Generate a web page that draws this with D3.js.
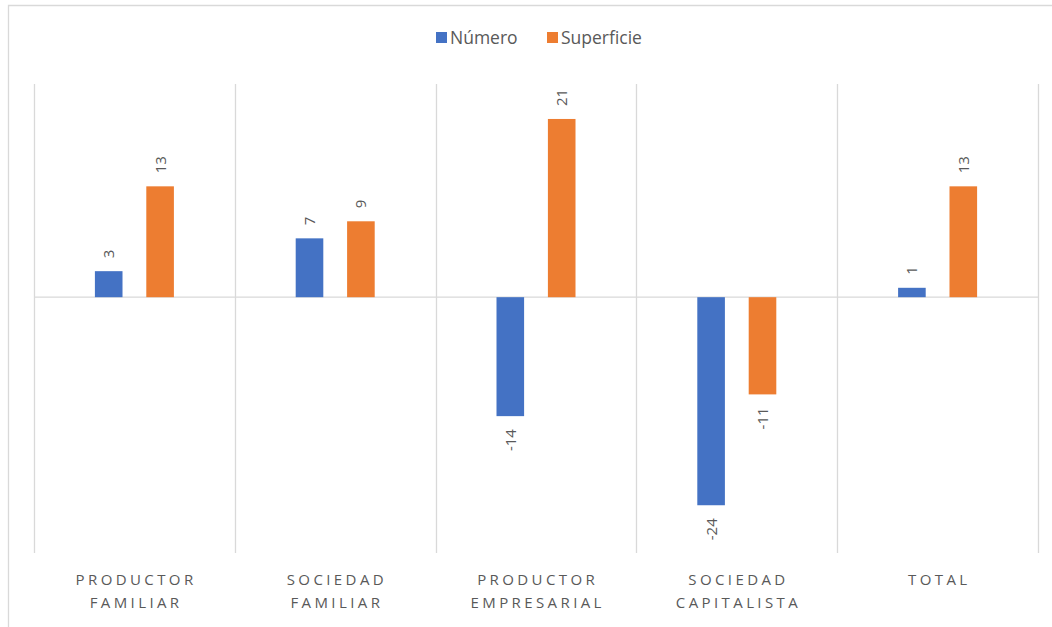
<!DOCTYPE html>
<html>
<head>
<meta charset="utf-8">
<script src="https://cdn.jsdelivr.net/npm/d3@7"></script>
<style>
  body { margin: 0; background: #fff; }
  svg { display: block; font-family: "Open Sans", sans-serif; }
  .grid line { stroke: #d9d9d9; stroke-width: 1.3; }
  .val { fill: #595959; font-size: 15px; }
  .cat { fill: #595959; font-size: 15px; letter-spacing: 3.4px; }
  .leg { fill: #595959; font-size: 17.5px; }
</style>
</head>
<body>
<script>
// categories, two lines each
const categories = ['PRODUCTOR FAMILIAR', 'SOCIEDAD FAMILIAR', 'PRODUCTOR EMPRESARIAL', 'SOCIEDAD CAPITALISTA', 'TOTAL'];
const categoryLines = [['PRODUCTOR', 'FAMILIAR'], ['SOCIEDAD', 'FAMILIAR'], ['PRODUCTOR', 'EMPRESARIAL'], ['SOCIEDAD', 'CAPITALISTA'], ['TOTAL']];
const seriesNames = ['Número', 'Superficie'];
const numero = [3.05, 6.9, -13.95, -24.4, 1.1];
const superficie = [13, 8.9, 20.9, -11.4, 13];
const yDomain = [-30, 25];

const W = 1052, H = 627;
const colors = { 'Número': '#4472C4', 'Superficie': '#ED7D31' };

const svg = d3.select('body').append('svg')
  .attr('width', W)
  .attr('height', H);

// outer frame (only top and left edges visible in the picture)
svg.append('path')
  .attr('d', 'M8.5,' + H + ' L8.5,5.5 L' + W + ',5.5')
  .attr('fill', 'none')
  .attr('stroke', '#d9d9d9')
  .attr('stroke-width', 1.3);

const plot = { left: 34, right: 1038, top: 84, bottom: 553 };

const x = d3.scaleBand()
  .domain(categories)
  .range([plot.left, plot.right]);

const xSeries = d3.scaleBand()
  .domain(seriesNames)
  .range([-39.5, 39.5])
  .paddingInner(25 / 27 * 0.5); // two bars ~27px wide, ~25px apart

const y = d3.scaleLinear()
  .domain(yDomain)
  .range([plot.bottom, plot.top]);

// vertical separators between categories
const grid = svg.append('g').attr('class', 'grid');
const edges = categories.map(c => x(c)).concat([plot.right]);
grid.selectAll('line.v')
  .data(edges)
  .enter().append('line')
  .attr('x1', d => Math.round(d) + 0.5)
  .attr('x2', d => Math.round(d) + 0.5)
  .attr('y1', plot.top)
  .attr('y2', plot.bottom);

// zero line
grid.append('line')
  .attr('x1', plot.left)
  .attr('x2', plot.right)
  .attr('y1', y(0))
  .attr('y2', y(0));

const rows = [];
categories.forEach((c, i) => {
  rows.push({ cat: c, series: 'Número', value: numero[i] });
  rows.push({ cat: c, series: 'Superficie', value: superficie[i] });
});

// plain hyphen for negatives, like the original
const fmt = d3.formatLocale({ decimal: '.', thousands: ',', grouping: [3], currency: ['', ''], minus: '-' }).format('.0f');
const bars = svg.append('g');

bars.selectAll('rect')
  .data(rows)
  .enter().append('rect')
  .attr('x', d => x(d.cat) + x.bandwidth() / 2 + xSeries(d.series))
  .attr('width', xSeries.bandwidth())
  .attr('y', d => y(Math.max(0, d.value)))
  .attr('height', d => Math.abs(y(d.value) - y(0)))
  .attr('fill', d => colors[d.series]);

// value labels, rotated
bars.selectAll('text')
  .data(rows)
  .enter().append('text')
  .attr('class', 'val')
  .attr('transform', d => {
    const cx = x(d.cat) + x.bandwidth() / 2 + xSeries(d.series) + xSeries.bandwidth() / 2 + 5.5;
    const cy = d.value >= 0 ? y(d.value) - 13 : y(d.value) + 13;
    return 'translate(' + cx + ',' + cy + ') rotate(-90)';
  })
  .attr('text-anchor', d => d.value >= 0 ? 'start' : 'end')
  .text(d => fmt(d.value));

// category labels
const cats = svg.append('g');
categories.forEach((c, i) => {
  const t = cats.append('text')
    .attr('class', 'cat')
    .attr('text-anchor', 'middle')
    .attr('x', x(c) + x.bandwidth() / 2 + 1.7)
    .attr('y', 585);
  categoryLines[i].forEach((line, j) => {
    t.append('tspan')
      .attr('x', x(c) + x.bandwidth() / 2 + 1.7)
      .attr('dy', j === 0 ? 0 : 23)
      .text(line);
  });
});

// legend
const legend = svg.append('g');
const legendX = [436, 547];
seriesNames.forEach((s, i) => {
  legend.append('rect')
    .attr('x', legendX[i])
    .attr('y', 32)
    .attr('width', 11)
    .attr('height', 11)
    .attr('fill', colors[s]);
  legend.append('text')
    .attr('class', 'leg')
    .attr('x', legendX[i] + 14)
    .attr('y', 44)
    .text(s);
});
</script>
</body>
</html>
